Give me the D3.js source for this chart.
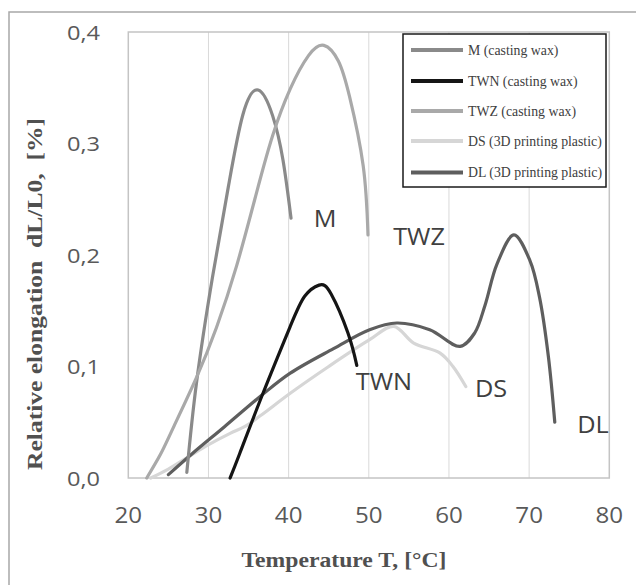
<!DOCTYPE html>
<html><head><meta charset="utf-8">
<script src="https://cdn.jsdelivr.net/npm/d3@7"></script>
<style>html,body{margin:0;padding:0;background:#fff;}svg{display:block;}</style>
</head><body>
<script>
// ---- data ----
const xTicks = [20, 30, 40, 50, 60, 70, 80];
const yTicks = [0, 0.1, 0.2, 0.3, 0.4];
const yTickLabels = ["0,0", "0,1", "0,2", "0,3", "0,4"];
const seriesNames = ["M", "TWN", "TWZ", "DS", "DL"];
const legendLabels = ["M (casting wax)", "TWN (casting wax)", "TWZ (casting wax)", "DS (3D printing plastic)", "DL (3D printing plastic)"];
const M = [[27.3,0.005],[28.5,0.085],[30.5,0.18],[32.5,0.262],[34.3,0.326],[36.2,0.348],[38,0.325],[39.3,0.285],[40.3,0.233]];
const TWN = [[32.7,0],[33.9,0.022],[36.8,0.076],[40.2,0.136],[42,0.163],[43.8,0.173],[45.3,0.165],[47.4,0.130],[48.5,0.101]];
const TWZ = [[22.3,0],[24,0.021],[25.6,0.045],[28.5,0.09],[31,0.135],[33.5,0.19],[36,0.256],[38,0.307],[40.2,0.349],[42.5,0.379],[44.4,0.388],[46.2,0.374],[47.6,0.342],[49.3,0.28],[49.9,0.218]];
const DS = [[22.8,0],[25,0.008],[27.5,0.019],[29.8,0.029],[32.7,0.04],[34.5,0.046],[36.5,0.056],[40.2,0.076],[45,0.1],[50.1,0.124],[53.1,0.136],[55.6,0.121],[58.9,0.112],[60.5,0.1],[62.1,0.082]];
const DL = [[25,0.003],[28,0.022],[32,0.046],[36.6,0.074],[40.2,0.094],[45.6,0.116],[50.1,0.133],[53.5,0.139],[57.6,0.133],[61.4,0.118],[63.2,0.13],[64.5,0.155],[66,0.192],[68.1,0.218],[70.1,0.195],[71.3,0.162],[72.4,0.109],[73.2,0.05]];
const curveLabels = [["M",325,227],["TWZ",419,245],["TWN",384,390],["DS",491,397],["DL",593,433]];

const seriesData = [M, TWN, TWZ, DS, DL];
const colors = ["#8a8a8a", "#151515", "#a9a9a9", "#d6d6d6", "#5e5e5e"];

const W = 636, H = 585;
const svg = d3.select("body").append("svg").attr("width", W).attr("height", H);

// outer frame
svg.append("rect").attr("x", 9).attr("y", 12).attr("width", W + 20).attr("height", H + 20)
  .attr("fill", "none").attr("stroke", "#a8a8a8").attr("stroke-width", 1.5);

const x = d3.scaleLinear().domain([20, 80]).range([128.3, 609.3]);
const y = d3.scaleLinear().domain([0, 0.4]).range([478, 32]);

// grid
svg.append("g").selectAll("line").data(xTicks.slice(1, -1)).join("line")
  .attr("x1", d => x(d)).attr("x2", d => x(d)).attr("y1", y(0.4)).attr("y2", y(0))
  .attr("stroke", "#d9d9d9").attr("stroke-width", 1);

// plot border
svg.append("rect").attr("x", x(20)).attr("y", y(0.4)).attr("width", x(80) - x(20)).attr("height", y(0) - y(0.4))
  .attr("fill", "none").attr("stroke", "#c4c4c4").attr("stroke-width", 1.5);

// tick labels
svg.append("g").selectAll("text").data(xTicks).join("text")
  .attr("transform", d => `translate(${x(d)},523) scale(1.15,1)`)
  .attr("text-anchor", "middle").attr("font-family", "Open Sans").attr("font-size", 21)
  .attr("fill", "#595959").text(d => d);
svg.append("g").selectAll("text").data(yTicks).join("text")
  .attr("transform", d => `translate(100,${y(d) + 7.5}) scale(1.18,1)`)
  .attr("text-anchor", "end").attr("font-family", "Open Sans").attr("font-size", 20)
  .attr("fill", "#595959").text((d, i) => yTickLabels[i]);

// axis titles
svg.append("text").attr("x", 344).attr("y", 567).attr("text-anchor", "middle")
  .attr("font-family", "Liberation Serif").attr("font-weight", "bold").attr("font-size", 21)
  .attr("fill", "#505050").attr("textLength", 205).attr("lengthAdjust", "spacingAndGlyphs")
  .text("Temperature T, [°C]");
svg.append("text").attr("transform", "translate(42,294) rotate(-90)").attr("text-anchor", "middle")
  .attr("font-family", "Liberation Serif").attr("font-weight", "bold").attr("font-size", 20)
  .attr("fill", "#505050").attr("textLength", 352).attr("lengthAdjust", "spacingAndGlyphs")
  .attr("xml:space", "preserve")
  .text("Relative elongation  dL/L0,  [%]");

// curves
const smooth = d3.line().x(d => x(d[0])).y(d => y(d[1])).curve(d3.curveNatural);
const cr = d3.line().x(d => x(d[0])).y(d => y(d[1])).curve(d3.curveCatmullRom.alpha(0.5));
const order = [3, 4, 0, 2, 1];
svg.append("g").selectAll("path").data(order).join("path")
  .attr("d", i => (i === 3 || i === 4 ? cr : smooth)(seriesData[i])).attr("fill", "none")
  .attr("stroke", i => colors[i]).attr("stroke-width", 3.2).attr("stroke-linecap", "round");

// curve labels
svg.append("g").selectAll("text").data(curveLabels).join("text")
  .attr("transform", d => `translate(${d[1]},${d[2]}) scale(1.1,1)`)
  .attr("text-anchor", "middle").attr("font-family", "Open Sans").attr("font-size", 23)
  .attr("fill", "#404040").text(d => d[0]);

// legend
const lg = svg.append("g");
lg.append("rect").attr("x", 403).attr("y", 34).attr("width", 203).attr("height", 153)
  .attr("fill", "#fff").attr("stroke", "#1a1a1a").attr("stroke-width", 1.5);
const rowY = [50, 81, 111, 141, 172.5];
seriesNames.forEach((s, i) => {
  lg.append("line").attr("x1", 411).attr("x2", 463).attr("y1", rowY[i]).attr("y2", rowY[i])
    .attr("stroke", colors[i]).attr("stroke-width", 4);
  lg.append("text").attr("x", 468).attr("y", rowY[i] + 4.5)
    .attr("font-family", "Liberation Serif").attr("font-size", 13.8).attr("fill", "#404040")
    .text(legendLabels[i]);
});
</script>
</body></html>
